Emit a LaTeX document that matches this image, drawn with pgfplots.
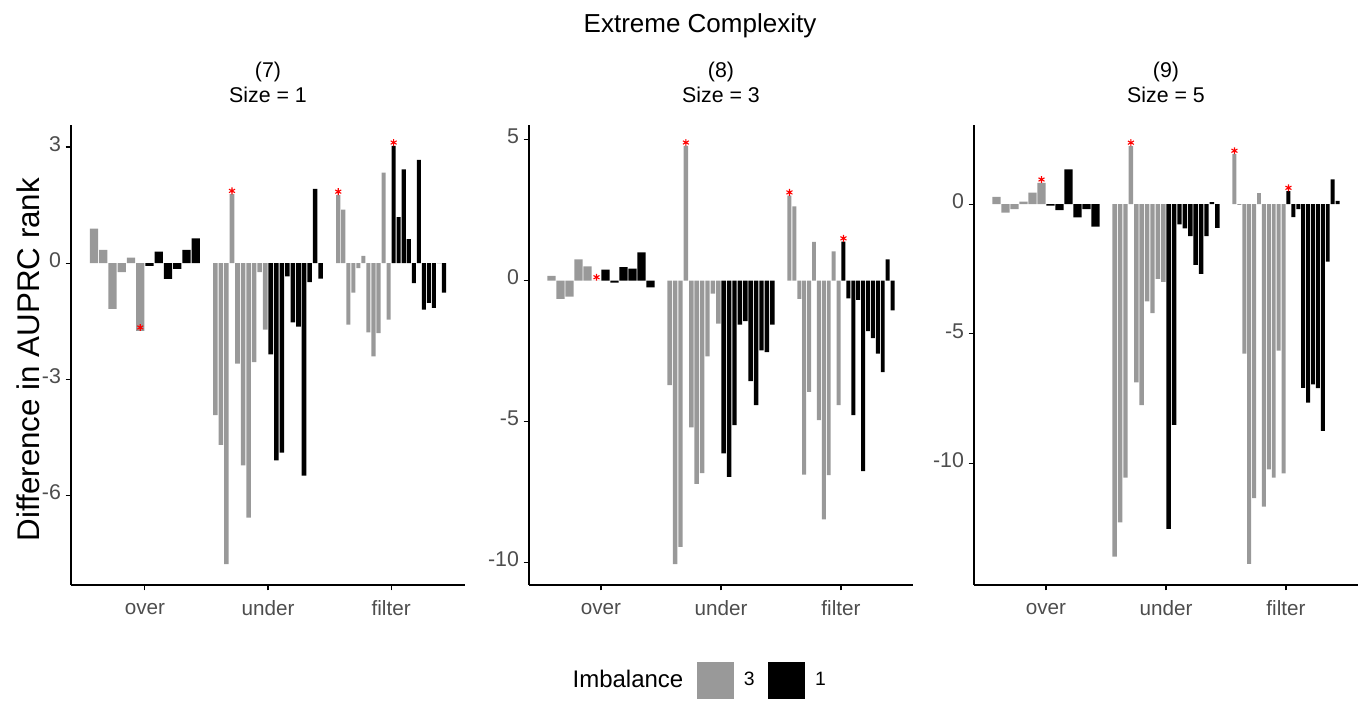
\documentclass[border=0pt]{standalone}
\usepackage{fontspec}
\setmainfont{Liberation Sans}
\usepackage{pgfplots}
\pgfplotsset{compat=1.18}
\definecolor{barg}{HTML}{999999}
\definecolor{tickc}{HTML}{4D4D4D}
\pgfplotsset{
 panel/.style={
  scale only axis, height=345pt, anchor=south west,
  axis lines=left, axis line style={-, line width=0.9pt, black},
  tick align=outside, major tick length=4pt, tick style={line width=0.9pt, black},
  xmin=0.4, xmax=3.6, xtick={1,2,3}, xticklabels={over,under,filter},
  typeset ticklabels with strut,
  xticklabel style={font=\fontsize{15.5}{15.5}\selectfont, text=tickc, yshift=-4pt},
  yticklabel style={font=\fontsize{16}{16}\selectfont, text=tickc},
  title style={align=center, font=\fontsize{16}{19}\selectfont, at={(0.5,1)}, anchor=south, yshift=7pt},
  clip=false,
 },
 gb/.style={ybar, bar shift=0pt, fill=barg, draw=none, forget plot},
 bb/.style={ybar, bar shift=0pt, fill=black, draw=none, forget plot},
 st/.style={only marks, mark=asterisk, color=red, mark size=2.6pt, mark options={line width=0.8pt, yshift=2.5pt}, forget plot},
}
\begin{document}
\begin{tikzpicture}
\path[use as bounding box] (0,0) rectangle (1022.25pt,525pt);
\node[font=\fontsize{19.5}{19.5}\selectfont] at (525pt,506pt) {Extreme Complexity};
% ---------------- Panel 7
\begin{axis}[panel, at={(53.25pt,86.25pt)}, width=295.5pt,
  ymin=-8.32, ymax=3.57, ytick={-6,-3,0,3}, yticklabels={-6,-3,0,3},
  title={(7)\\Size = 1},
  ylabel={Difference in AUPRC rank},
  ylabel style={at={(axis description cs:-0.109,0.49)}, anchor=center, font=\fontsize{23.5}{23.5}\selectfont}]
\addplot[gb, bar width=0.067] coordinates {(0.5875,0.89) (0.6625,0.34) (0.7375,-1.18) (0.8125,-0.23) (0.8875,0.14) (0.9625,-1.75)};
\addplot[bb, bar width=0.067] coordinates {(1.0375,-0.07) (1.1125,0.30) (1.1875,-0.41) (1.2625,-0.15) (1.3375,0.34) (1.4125,0.64)};
\addplot[gb, bar width=0.037] coordinates {(1.5725,-3.93) (1.6175,-4.70) (1.6625,-7.78) (1.7075,1.78) (1.7525,-2.60) (1.7975,-5.23) (1.8425,-6.58) (1.8875,-2.56) (1.9325,-0.23) (1.9775,-1.72)};
\addplot[bb, bar width=0.037] coordinates {(2.0225,-2.36) (2.0675,-5.10) (2.1125,-4.90) (2.1575,-0.34) (2.2025,-1.53) (2.2475,-1.64) (2.2925,-5.49) (2.3375,-0.49) (2.3825,1.92) (2.4275,-0.40)};
\addplot[gb, bar width=0.033] coordinates {(2.5705,1.76) (2.6114,1.38) (2.6523,-1.59) (2.6932,-0.76) (2.7341,-0.13) (2.7750,0.19) (2.8159,-1.79) (2.8568,-2.41) (2.8977,-1.81) (2.9386,2.34) (2.9795,-1.46)};
\addplot[bb, bar width=0.033] coordinates {(3.0205,3.03) (3.0614,1.19) (3.1023,2.42) (3.1432,0.62) (3.1841,-0.52) (3.2250,2.67) (3.2659,-1.20) (3.3068,-1.03) (3.3477,-1.16) (3.3886,0) (3.4295,-0.76)};
\addplot[st] coordinates {(0.9625,-1.75) (1.7075,1.78) (2.5705,1.76) (3.0205,3.03)};
\end{axis}
% ---------------- Panel 8
\begin{axis}[panel, at={(396.75pt,86.25pt)}, width=288pt,
  ymin=-10.80, ymax=5.52, ytick={-10,-5,0,5}, yticklabels={-10,-5,0,5},
  title={(8)\\Size = 3},
  legend style={draw=none, fill=none, legend columns=-1, at={(axis description cs:0.433,-0.2065)}, anchor=center,
    font=\fontsize{14.5}{14.5}\selectfont, nodes={inner sep=2pt},
    /tikz/every odd column/.append style={column sep=6pt},
    /tikz/every even column/.append style={column sep=8pt}}]
\addlegendimage{empty legend}\addlegendentry{\fontsize{18}{18}\selectfont Imbalance}
\addlegendimage{legend image code/.code={\fill[barg] (0pt,-13.5pt) rectangle (27pt,13.5pt);}}\addlegendentry{3}
\addlegendimage{legend image code/.code={\fill[black] (0pt,-13.5pt) rectangle (27pt,13.5pt);}}\addlegendentry{1}
\addplot[gb, bar width=0.067] coordinates {(0.5875,0.17) (0.6625,-0.65) (0.7375,-0.57) (0.8125,0.75) (0.8875,0.50) (0.9625,0.00)};
\addplot[bb, bar width=0.067] coordinates {(1.0375,0.39) (1.1125,-0.07) (1.1875,0.48) (1.2625,0.42) (1.3375,1.00) (1.4125,-0.24)};
\addplot[gb, bar width=0.037] coordinates {(1.5725,-3.71) (1.6175,-10.06) (1.6625,-9.45) (1.7075,4.78) (1.7525,-5.21) (1.7975,-7.21) (1.8425,-6.83) (1.8875,-2.69) (1.9325,-0.46) (1.9775,-1.53)};
\addplot[bb, bar width=0.037] coordinates {(2.0225,-6.13) (2.0675,-6.96) (2.1125,-5.13) (2.1575,-1.56) (2.2025,-1.44) (2.2475,-3.57) (2.2925,-4.42) (2.3375,-2.48) (2.3825,-2.54) (2.4275,-1.56)};
\addplot[gb, bar width=0.033] coordinates {(2.5705,3.01) (2.6114,2.63) (2.6523,-0.65) (2.6932,-6.88) (2.7341,-3.95) (2.7750,1.37) (2.8159,-4.95) (2.8568,-8.47) (2.8977,-6.90) (2.9386,1.04) (2.9795,-4.42)};
\addplot[bb, bar width=0.033] coordinates {(3.0205,1.38) (3.0614,-0.63) (3.1023,-4.77) (3.1432,-0.68) (3.1841,-6.76) (3.2250,-1.79) (3.2659,-2.04) (3.3068,-2.59) (3.3477,-3.25) (3.3886,0.75) (3.4295,-1.06)};
\addplot[st] coordinates {(0.9625,0) (1.7075,4.78) (2.5705,3.01) (3.0205,1.38)};
\end{axis}
% ---------------- Panel 9
\begin{axis}[panel, at={(730.5pt,86.25pt)}, width=288pt,
  ymin=-14.68, ymax=3.05, ytick={-10,-5,0}, yticklabels={-10,-5,0},
  title={(9)\\Size = 5}]
\addplot[gb, bar width=0.067] coordinates {(0.5875,0.28) (0.6625,-0.33) (0.7375,-0.19) (0.8125,0.10) (0.8875,0.44) (0.9625,0.82)};
\addplot[bb, bar width=0.067] coordinates {(1.0375,-0.06) (1.1125,-0.23) (1.1875,1.34) (1.2625,-0.51) (1.3375,-0.19) (1.4125,-0.87)};
\addplot[gb, bar width=0.037] coordinates {(1.5725,-13.59) (1.6175,-12.27) (1.6625,-10.54) (1.7075,2.24) (1.7525,-6.87) (1.7975,-7.75) (1.8425,-3.75) (1.8875,-4.20) (1.9325,-2.88) (1.9775,-3.00)};
\addplot[bb, bar width=0.037] coordinates {(2.0225,-12.52) (2.0675,-8.51) (2.1125,-0.78) (2.1575,-0.93) (2.2025,-1.23) (2.2475,-2.34) (2.2925,-2.69) (2.3375,-1.23) (2.3825,0.08) (2.4275,-0.92)};
\addplot[gb, bar width=0.033] coordinates {(2.5705,1.93) (2.6114,-0.03) (2.6523,-5.76) (2.6932,-13.87) (2.7341,-11.33) (2.7750,0.42) (2.8159,-11.66) (2.8568,-10.22) (2.8977,-10.54) (2.9386,-5.65) (2.9795,-10.38)};
\addplot[bb, bar width=0.033] coordinates {(3.0205,0.50) (3.0614,-0.50) (3.1023,-0.19) (3.1432,-7.08) (3.1841,-7.65) (3.2250,-6.95) (3.2659,-7.09) (3.3068,-8.74) (3.3477,-2.22) (3.3886,0.95) (3.4295,0.13)};
\addplot[st] coordinates {(0.9625,0.82) (1.7075,2.24) (2.5705,1.93) (3.0205,0.50)};
\end{axis}
\end{tikzpicture}
\end{document}
